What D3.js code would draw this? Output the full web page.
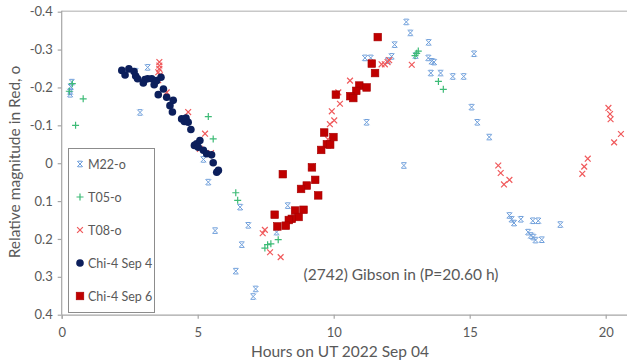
<!DOCTYPE html>
<html>
<head>
<meta charset="utf-8">
<script src="https://cdn.jsdelivr.net/npm/d3@7"></script>
<style>
  html, body { margin: 0; padding: 0; background: #fff; }
  svg { display: block; }
  text { font-family: Lato, "Open Sans", sans-serif; fill: #595959; }
</style>
</head>
<body>
<svg id="chart" width="627" height="362"></svg>
<script>
// Relative R-band magnitudes of (2742) Gibson, phased to P = 20.60 h.
// Each series: [hours UT on 2022 Sep 04, relative magnitude]
const m22 = [
  [0.37, -0.214], [0.33, -0.202], [0.31, -0.189], [0.31, -0.182],
  [2.71, -0.243], [3.16, -0.253], [2.88, -0.134], [5.21, -0.010], [5.39, 0.050],
  [6.56, 0.116], [5.64, 0.178], [6.86, 0.164], [6.62, 0.215], [8.31, 0.112],
  [7.90, 0.182], [6.40, 0.285], [7.13, 0.332], [7.04, 0.352],
  [11.15, -0.278], [11.36, -0.278], [11.21, -0.108], [12.58, 0.006],
  [12.67, -0.373], [12.82, -0.344], [12.24, -0.313], [12.13, -0.282], [11.99, -0.271],
  [13.01, -0.284], [13.49, -0.319], [13.48, -0.278], [13.60, -0.269], [13.69, -0.267],
  [13.57, -0.238], [13.93, -0.238], [14.38, -0.229], [14.78, -0.229], [15.16, -0.289],
  [15.07, -0.148], [15.28, -0.108], [15.72, -0.069],
  [16.46, 0.138], [16.54, 0.148], [16.63, 0.158], [16.88, 0.148], [17.32, 0.152],
  [17.52, 0.152], [18.33, 0.162], [17.15, 0.182], [17.25, 0.191], [17.34, 0.195],
  [17.42, 0.203], [17.65, 0.202]
];
const t05 = [
  [0.39, -0.210], [0.28, -0.190], [0.79, -0.170], [0.51, -0.100],
  [5.39, -0.123], [5.57, -0.064],
  [6.40, 0.078], [6.47, 0.098], [7.57, 0.215], [7.69, 0.213], [7.47, 0.224], [7.96, 0.202],
  [13.11, -0.296], [13.05, -0.290], [12.99, -0.284], [13.85, -0.216], [14.03, -0.195]
];
const t08 = [
  [3.59, -0.267], [3.59, -0.258], [3.59, -0.249], [3.55, -0.240], [3.61, -0.232],
  [3.55, -0.219], [3.86, -0.187], [4.65, -0.135], [5.27, -0.078], [5.08, -0.038], [5.49, -0.027],
  [7.47, 0.176], [7.39, 0.185], [7.66, 0.235], [8.05, 0.248],
  [10.60, -0.218], [10.17, -0.187], [10.23, -0.157], [9.93, -0.137], [10.02, -0.113],
  [9.86, -0.103], [9.79, -0.063], [9.17, 0.009],
  [11.76, -0.261], [11.88, -0.261], [11.98, -0.267], [12.04, -0.272], [12.87, -0.260],
  [16.05, 0.006], [16.14, 0.026], [16.46, 0.044], [16.26, 0.056],
  [20.10, -0.146], [20.16, -0.130], [20.18, -0.116], [20.56, -0.077], [20.31, -0.055],
  [19.34, -0.012], [19.21, 0.009], [19.14, 0.028]
];
const chiSep4 = [
  [2.21, -0.245], [2.33, -0.233], [2.47, -0.249], [2.66, -0.242], [2.72, -0.230],
  [2.79, -0.223], [3.00, -0.212], [3.06, -0.221], [3.16, -0.223], [3.31, -0.223],
  [3.40, -0.207], [3.49, -0.218], [3.65, -0.227], [3.55, -0.181], [3.74, -0.196],
  [3.86, -0.174], [3.98, -0.152], [4.07, -0.135], [4.10, -0.166], [4.41, -0.117],
  [4.51, -0.110], [4.57, -0.119], [4.65, -0.108], [4.75, -0.089], [4.88, -0.047],
  [4.96, -0.051], [5.08, -0.060], [5.02, -0.042], [5.21, -0.034], [5.33, -0.025],
  [5.51, -0.022], [5.57, -0.001], [5.70, 0.024], [5.76, 0.019]
];
const chiSep6 = [
  [11.62, -0.333], [11.40, -0.263], [11.52, -0.238], [10.94, -0.205], [11.21, -0.200],
  [10.83, -0.191], [10.61, -0.177], [10.72, -0.172], [10.08, -0.181], [9.65, -0.081],
  [9.99, -0.069], [9.75, -0.050], [9.87, -0.049], [9.54, -0.035], [9.20, 0.011],
  [8.13, 0.029], [9.32, 0.044], [9.01, 0.059], [8.80, 0.068], [9.43, 0.085],
  [7.83, 0.136], [8.58, 0.125], [8.89, 0.123], [8.71, 0.142], [8.46, 0.147],
  [8.35, 0.150], [8.24, 0.165], [7.93, 0.167]
];
const seriesNames = ["M22-o", "T05-o", "T08-o", "Chi-4 Sep 4", "Chi-4 Sep 6"];
const xTicks = [0, 5, 10, 15, 20];
const yTicks = [-0.4, -0.3, -0.2, -0.1, 0, 0.1, 0.2, 0.3, 0.4];
const xTitle = "Hours on UT 2022 Sep 04";
const yTitle = "Relative magnitude in Red, o";
const note = "(2742) Gibson in (P=20.60 h)";

const svg = d3.select("#chart");
const plotLeft = 61.7, plotTop = 11.7, plotBottom = 314.7, hourPx = 27.2;

const x = d3.scaleLinear().domain([0, 21]).range([plotLeft, plotLeft + 21 * hourPx]);
const y = d3.scaleLinear().domain([-0.4, 0.4]).range([plotTop, plotBottom]);

const axisColor = "#a6a6a6";
const fmtY = v => v === 0 ? "0" : v.toFixed(1);

// top frame line
svg.append("line")
  .attr("x1", plotLeft).attr("x2", 627).attr("y1", y(-0.4) - 0.5).attr("y2", y(-0.4) - 0.5)
  .attr("stroke", "#c8c8c8").attr("stroke-width", 1.6);

// y axis
const gy = svg.append("g").attr("transform", `translate(${plotLeft},0)`)
  .call(d3.axisLeft(y).tickValues(yTicks).tickFormat(fmtY).tickSize(4).tickPadding(5));
// x axis
const gx = svg.append("g").attr("transform", `translate(0,${plotBottom})`)
  .call(d3.axisBottom(x).tickValues(xTicks).tickFormat(d3.format("d")).tickSize(4).tickPadding(9));

[gx, gy].forEach(g => {
  g.select(".domain").attr("stroke", axisColor).attr("stroke-width", 1.2);
  g.selectAll(".tick line").attr("stroke", axisColor).attr("stroke-width", 1.2);
  g.selectAll(".tick text").attr("font-size", 13).attr("fill", "#595959")
    .attr("font-family", "Lato, 'Open Sans', sans-serif");
});
gy.select(".domain").attr("d", `M0,${plotTop - 1}V${plotBottom}`);

// titles
svg.append("text").attr("x", 340).attr("y", 357).attr("text-anchor", "middle")
  .attr("font-size", 15.5).text(xTitle);
svg.append("text").attr("transform", `translate(20,${162}) rotate(-90)`)
  .attr("text-anchor", "middle").attr("font-size", 15.5).text(yTitle);
svg.append("text").attr("x", 401).attr("y", 280).attr("text-anchor", "middle")
  .attr("font-size", 15.5).text(note);

// marker painters
const colors = ["#6f9fdb", "#3dbb76", "#f05a5c", "#0c1f5c", "#c00000"];
function drawMarker(g, k, cx, cy) {
  if (k === 0) {
    const s = 2.8;
    g.append("path")
      .attr("d", `M${cx - s},${cy - s}L${cx + s},${cy + s}M${cx + s},${cy - s}L${cx - s},${cy + s}` +
                 `M${cx - 2.2},${cy - s}H${cx + 2.2}M${cx - 2.2},${cy + s}H${cx + 2.2}`)
      .attr("stroke", colors[0]).attr("stroke-width", 1).attr("fill", "none");
  } else if (k === 1) {
    const s = 3.5;
    g.append("path").attr("d", `M${cx - s},${cy}H${cx + s}M${cx},${cy - s}V${cy + s}`)
      .attr("stroke", colors[1]).attr("stroke-width", 1.2).attr("fill", "none");
  } else if (k === 2) {
    const s = 2.9;
    g.append("path")
      .attr("d", `M${cx - s},${cy - s}L${cx + s},${cy + s}M${cx + s},${cy - s}L${cx - s},${cy + s}`)
      .attr("stroke", colors[2]).attr("stroke-width", 1.2).attr("fill", "none");
  } else if (k === 3) {
    g.append("circle").attr("cx", cx).attr("cy", cy).attr("r", 3.8).attr("fill", colors[3]);
  } else {
    g.append("rect").attr("x", cx - 3.8).attr("y", cy - 3.8).attr("width", 7.6).attr("height", 7.6)
      .attr("fill", colors[4]).attr("stroke", "#a50000").attr("stroke-width", 0.6);
  }
}

const allSeries = [m22, t05, t08, chiSep4, chiSep6];
allSeries.forEach((data, k) => {
  const g = svg.append("g").attr("class", "series-" + k);
  data.forEach(d => drawMarker(g, k, x(d[0]), y(d[1])));
});

// legend
const lg = svg.append("g");
lg.append("rect").attr("x", 68.5).attr("y", 148.5).attr("width", 86).attr("height", 164)
  .attr("fill", "#fff").attr("stroke", "#8c8c8c").attr("stroke-width", 1);
seriesNames.forEach((name, k) => {
  const cy = 164 + k * 33;
  const mg = lg.append("g");
  drawMarker(mg, k, 80, cy);
  lg.append("text").attr("x", 88).attr("y", cy + 4.5).attr("font-size", 12.5).text(name);
});
</script>
</body>
</html>
